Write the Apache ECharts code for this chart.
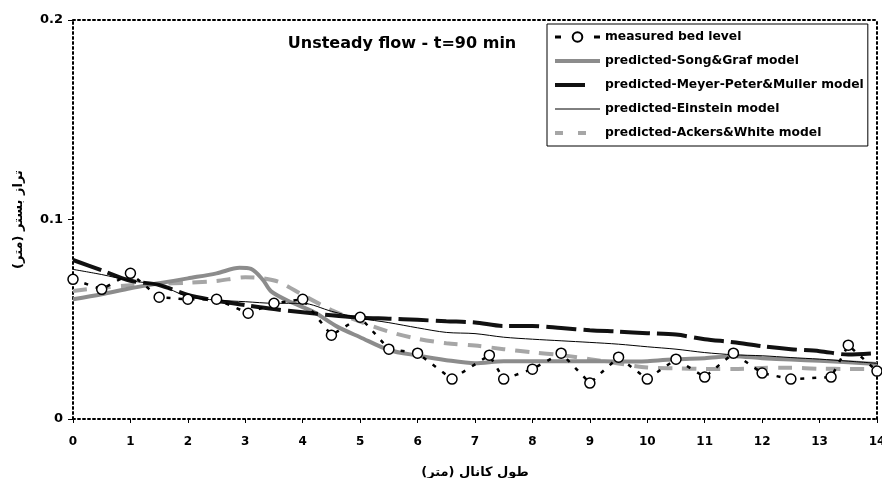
<!DOCTYPE html>
<html>
<head>
<meta charset="utf-8">
<script src="https://cdn.jsdelivr.net/npm/echarts@6/dist/echarts.min.js"></script>
<style>html,body{margin:0;padding:0;background:#fff}#c{width:882px;height:478px}</style>
</head>
<body>
<div id="c"></div>
<script>
// ---- data ----
const titleText = 'Unsteady flow - t=90 min';
const xName = 'طول كانال (متر)';
const yName = 'تراز بستر (متر)';
const seriesNames = ['measured bed level', 'predicted-Song&Graf model', 'predicted-Meyer-Peter&Muller model', 'predicted-Einstein model', 'predicted-Ackers&White model'];

const measuredX = [0, 0.5, 1, 1.5, 2, 2.5, 3.05, 3.5, 4, 4.5, 5, 5.5, 6, 6.6, 7.25, 7.5, 8, 8.5, 9, 9.5, 10, 10.5, 11, 11.5, 12, 12.5, 13.2, 13.5, 14];
const measuredY = [0.070, 0.065, 0.073, 0.061, 0.060, 0.060, 0.053, 0.058, 0.060, 0.042, 0.051, 0.035, 0.033, 0.020, 0.032, 0.020, 0.025, 0.033, 0.018, 0.031, 0.020, 0.030, 0.021, 0.033, 0.023, 0.020, 0.021, 0.037, 0.024];

const songX = [0, 0.5, 1, 1.5, 2, 2.5, 2.9, 3.1, 3.3, 3.45, 3.8, 4.2, 4.6, 5, 5.5, 6, 6.5, 7, 7.5, 8, 8.5, 9, 9.5, 10, 10.5, 11, 11.5, 12, 12.5, 13, 13.5, 14];
const songY = [0.0600, 0.0625, 0.0655, 0.0680, 0.0705, 0.0730, 0.0758, 0.0752, 0.0700, 0.0640, 0.0585, 0.0535, 0.0463, 0.0410, 0.0346, 0.0318, 0.0295, 0.0280, 0.0290, 0.0290, 0.0290, 0.0290, 0.0288, 0.0290, 0.0300, 0.0305, 0.0315, 0.0305, 0.0298, 0.0292, 0.0285, 0.0276];

const mpmX = [0, 0.5, 1, 1.5, 2, 2.5, 3, 3.5, 4, 4.5, 5, 5.5, 6, 6.5, 7, 7.5, 8, 8.5, 9, 9.5, 10, 10.5, 11, 11.5, 12, 12.5, 13, 13.5, 14];
const mpmY = [0.0797, 0.0745, 0.0693, 0.0672, 0.0622, 0.0593, 0.0571, 0.0551, 0.0535, 0.0520, 0.0508, 0.0503, 0.0497, 0.0490, 0.0484, 0.0466, 0.0466, 0.0456, 0.0445, 0.0438, 0.0430, 0.0423, 0.0400, 0.0385, 0.0365, 0.0350, 0.0340, 0.0323, 0.0330];

const einX = [0, 0.5, 1, 1.5, 2, 2.5, 3, 3.5, 4, 4.5, 5, 5.5, 6, 6.5, 7, 7.5, 8, 8.5, 9, 9.5, 10, 10.5, 11, 11.5, 12, 12.5, 13, 13.5, 14];
const einY = [0.0750, 0.0724, 0.0693, 0.0672, 0.0613, 0.0596, 0.0588, 0.0580, 0.0580, 0.0540, 0.0505, 0.0483, 0.0457, 0.0434, 0.0428, 0.0410, 0.0400, 0.0392, 0.0384, 0.0375, 0.0362, 0.0350, 0.0333, 0.0322, 0.0317, 0.0308, 0.0300, 0.0290, 0.0279];

const ackX = [0, 0.5, 1, 1.5, 2, 2.5, 3, 3.3, 3.6, 4, 4.5, 5, 5.5, 6, 6.5, 7, 7.5, 8, 8.5, 9, 9.5, 10, 10.5, 11, 11.5, 12, 12.5, 13, 13.5, 14];
const ackY = [0.0642, 0.0658, 0.0670, 0.0678, 0.0683, 0.0692, 0.0710, 0.0705, 0.0685, 0.0622, 0.0546, 0.0488, 0.0438, 0.0402, 0.0380, 0.0368, 0.0350, 0.0334, 0.0320, 0.0300, 0.0278, 0.0258, 0.0254, 0.0251, 0.0251, 0.0256, 0.0257, 0.0252, 0.0251, 0.0250];

const xTicks = {min: 0, max: 14, interval: 1};
const yTicks = {min: 0, max: 0.2, interval: 0.1};

// ---- chart ----
const pairs = (xs, ys) => xs.map((x, i) => [x, ys[i]]);
const FONT = 'DejaVu Sans';
const dotted = {color: '#000', width: 2, type: [2, 3]};
const hideSym = {opacity: 0};

const chart = echarts.init(document.getElementById('c'), null, {renderer: 'canvas'});
chart.setOption({
  animation: false,
  backgroundColor: '#fff',
  title: {
    text: titleText, left: 397, top: 31, textAlign: 'center',
    textStyle: {fontFamily: FONT, fontWeight: 'bold', fontSize: 16, color: '#000'}
  },
  legend: {
    orient: 'vertical', left: 547, top: 24,
    itemWidth: 45, itemHeight: 12, itemGap: 12,
    padding: [7, 4, 7, 6],
    borderColor: '#000', borderWidth: 1, backgroundColor: '#fff',
    textStyle: {fontFamily: FONT, fontWeight: 'bold', fontSize: 12.3, color: '#000'},
    data: [
      {name: seriesNames[0], lineStyle: {color: '#000', type: [6, 33], width: 3}},
      {name: seriesNames[1], itemStyle: hideSym, lineStyle: {color: '#8c8c8c', type: 'solid', width: 4}},
      {name: seriesNames[2], itemStyle: hideSym, lineStyle: {color: '#111', type: [30, 20], width: 4}},
      {name: seriesNames[3], itemStyle: hideSym, lineStyle: {color: '#000', type: 'solid', width: 1}},
      {name: seriesNames[4], itemStyle: hideSym, lineStyle: {color: '#a6a6a6', type: [8, 15], width: 4}}
    ]
  },
  grid: {left: 73, right: 5, top: 20, bottom: 59, outerBoundsMode: 'none', containLabel: false},
  xAxis: [{
    type: 'value', min: xTicks.min, max: xTicks.max, interval: xTicks.interval,
    name: xName, nameLocation: 'middle', nameGap: 47,
    nameTextStyle: {fontFamily: FONT, fontWeight: 'bold', fontSize: 13, color: '#000'},
    axisLine: {lineStyle: dotted},
    axisTick: {show: true, length: 4, lineStyle: {color: '#000', width: 1}},
    axisLabel: {fontFamily: FONT, fontWeight: 'bold', fontSize: 12, color: '#000', margin: 17},
    splitLine: {show: false}
  }, {
    type: 'value', position: 'top', min: xTicks.min, max: xTicks.max,
    axisLine: {show: true, onZero: false, lineStyle: dotted},
    axisTick: {show: false}, axisLabel: {show: false}, splitLine: {show: false}
  }],
  yAxis: [{
    type: 'value', min: yTicks.min, max: yTicks.max, interval: yTicks.interval,
    name: yName, nameLocation: 'middle', nameGap: 48,
    nameTextStyle: {fontFamily: FONT, fontWeight: 'bold', fontSize: 13, color: '#000'},
    axisLine: {show: true, lineStyle: dotted},
    axisTick: {show: true, length: 5, lineStyle: {color: '#000', width: 1}},
    axisLabel: {fontFamily: FONT, fontWeight: 'bold', fontSize: 13, color: '#000', margin: 10},
    splitLine: {show: false}
  }, {
    type: 'value', position: 'right', min: yTicks.min, max: yTicks.max,
    axisLine: {show: true, onZero: false, lineStyle: dotted},
    axisTick: {show: false}, axisLabel: {show: false}, splitLine: {show: false}
  }],
  series: [
    {
      name: seriesNames[0], type: 'line', z: 10, data: pairs(measuredX, measuredY),
      symbol: 'circle', symbolSize: 10,
      itemStyle: {color: '#fff', borderColor: '#000', borderWidth: 1.5},
      lineStyle: {color: '#000', width: 2.5, type: [4, 8]}
    },
    {
      name: seriesNames[1], type: 'line', z: 3, data: pairs(songX, songY), smooth: 0.3,
      symbol: 'none', itemStyle: {color: '#8c8c8c'},
      lineStyle: {color: '#8c8c8c', width: 4}
    },
    {
      name: seriesNames[2], type: 'line', z: 4, data: pairs(mpmX, mpmY), smooth: 0.3,
      symbol: 'none', itemStyle: {color: '#111'},
      lineStyle: {color: '#111', width: 4, type: [30, 7]}
    },
    {
      name: seriesNames[3], type: 'line', z: 5, data: pairs(einX, einY), smooth: 0.3,
      symbol: 'none', itemStyle: {color: '#000'},
      lineStyle: {color: '#000', width: 1}
    },
    {
      name: seriesNames[4], type: 'line', z: 2, data: pairs(ackX, ackY), smooth: 0.3,
      symbol: 'none', itemStyle: {color: '#a6a6a6'},
      lineStyle: {color: '#a6a6a6', width: 4, type: [14, 10]}
    }
  ]
});
</script>
</body>
</html>
